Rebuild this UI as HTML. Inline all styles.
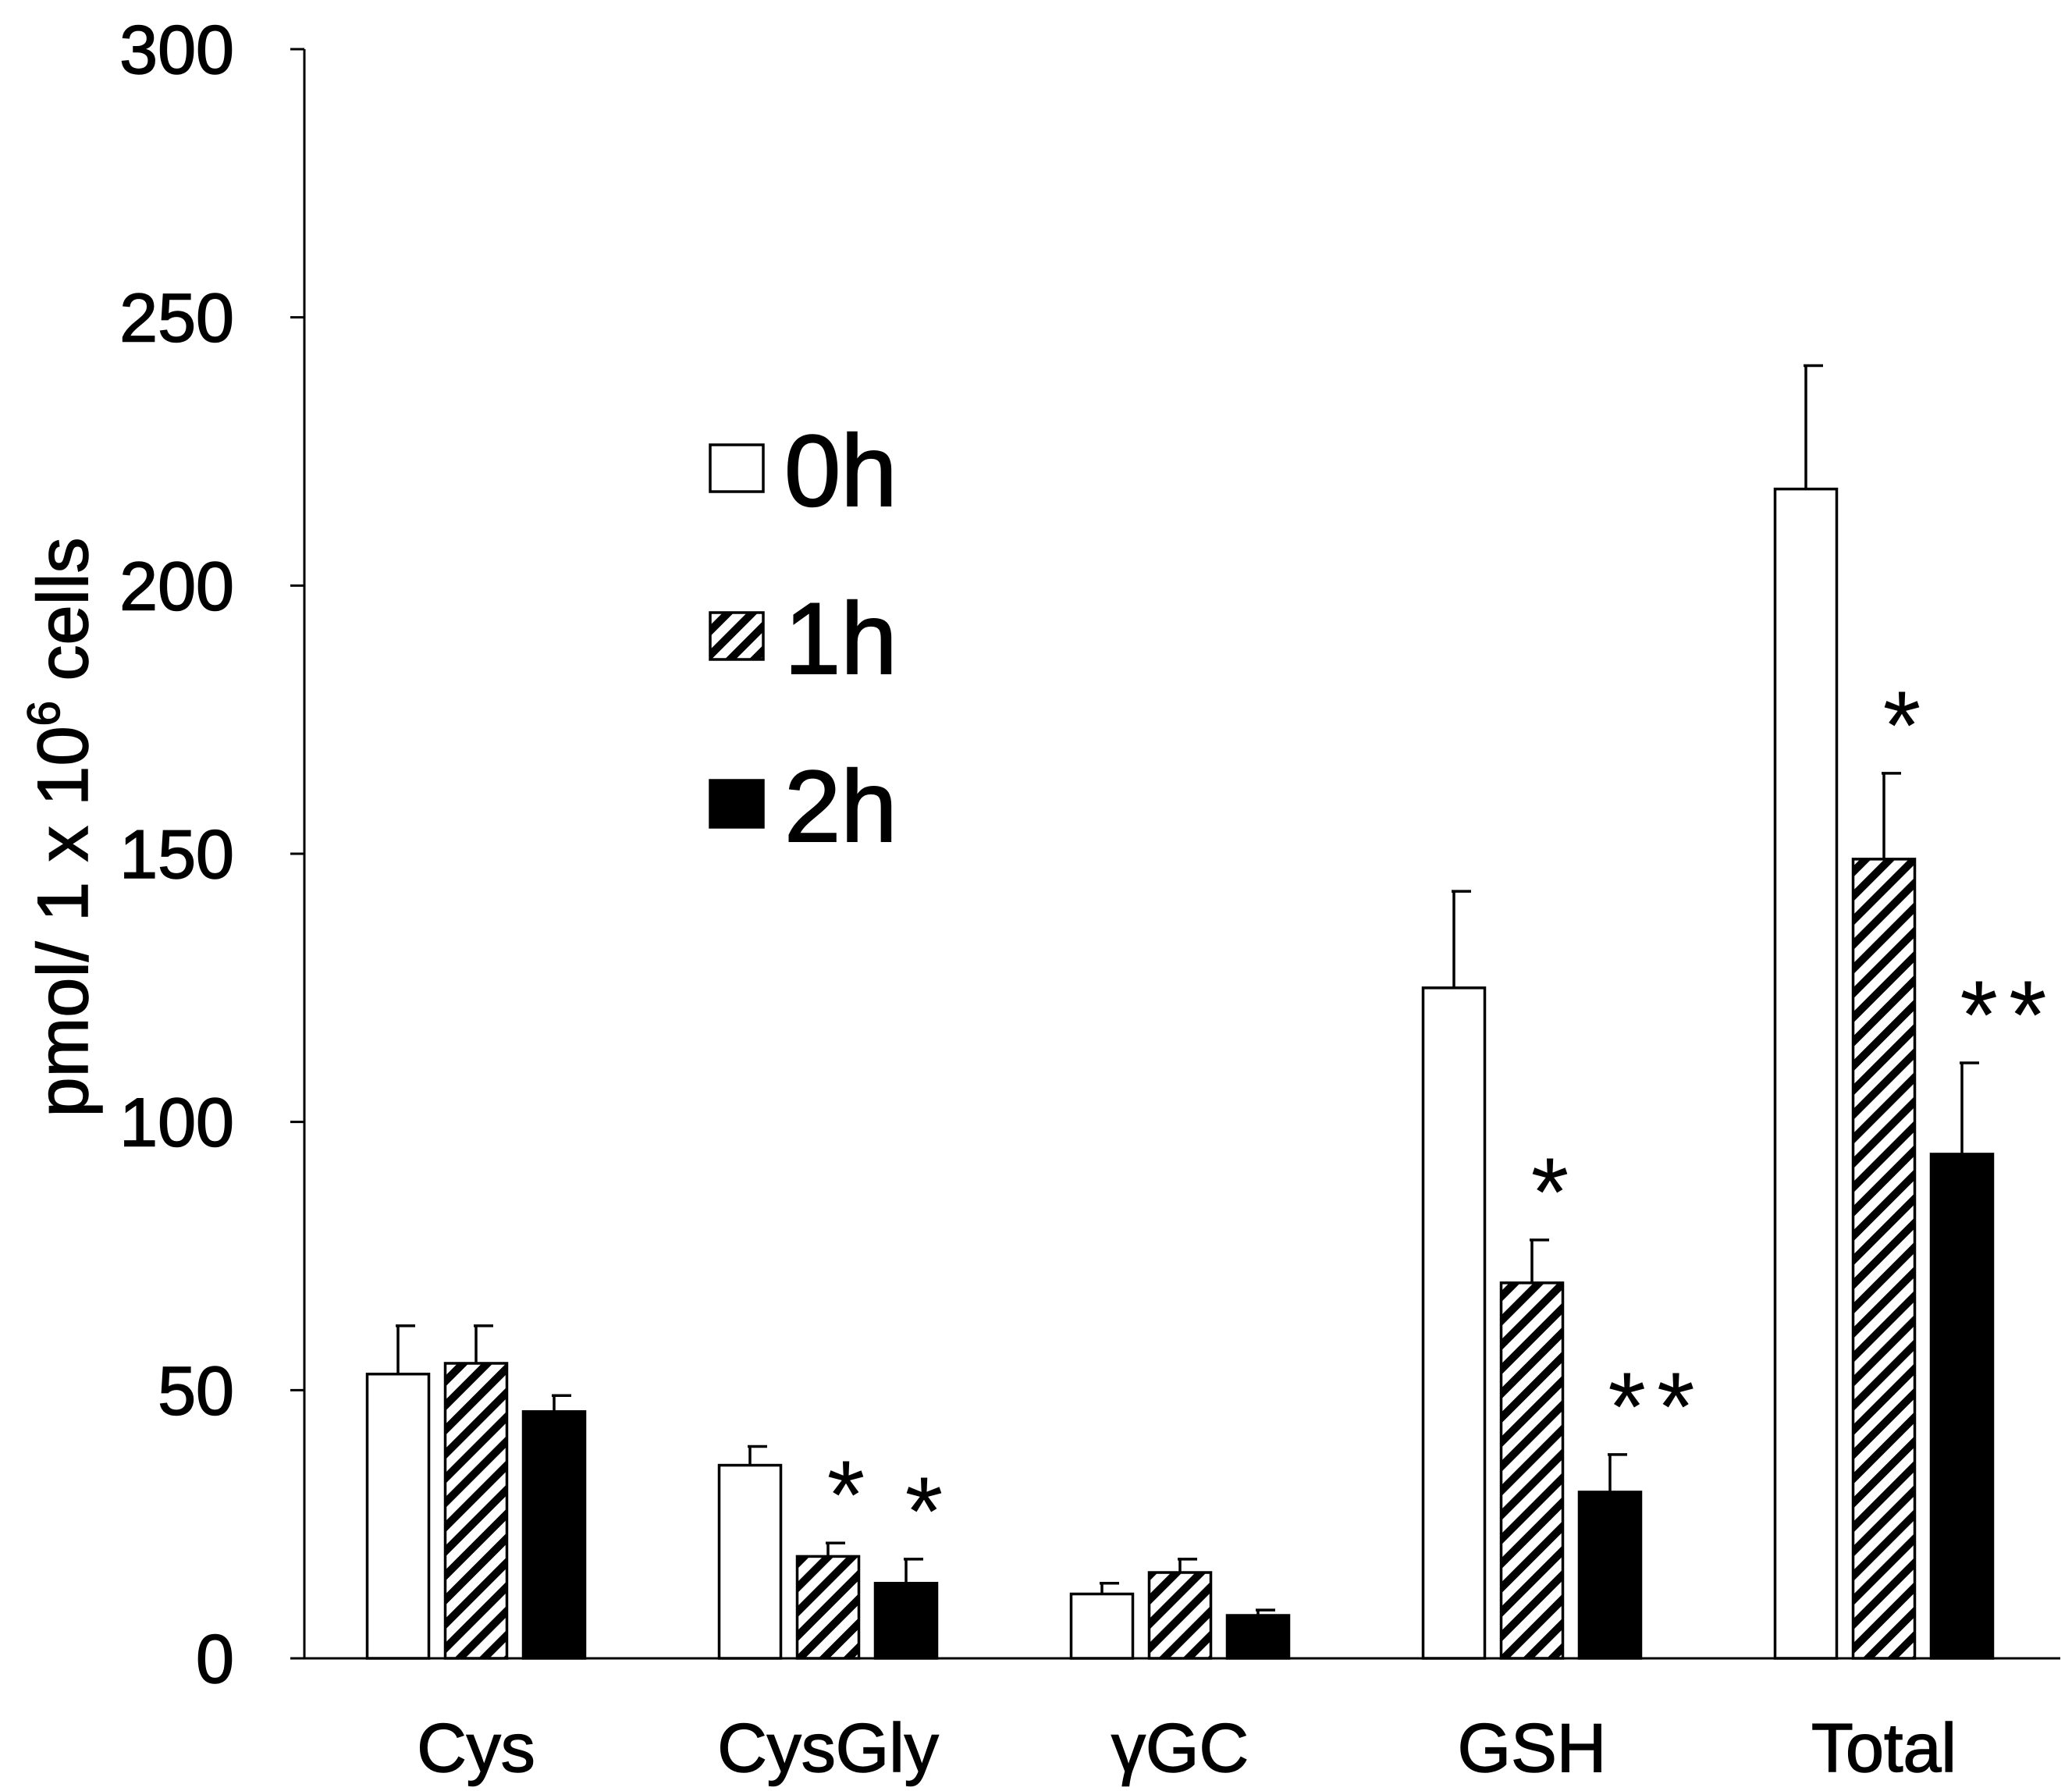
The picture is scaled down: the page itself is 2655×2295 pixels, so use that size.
<!DOCTYPE html>
<html><head><meta charset="utf-8"><style>
html,body{margin:0;padding:0;background:#fff}
svg{display:block;font-family:"Liberation Sans",Arial,sans-serif}
</style></head><body>
<svg id="chart" width="2655" height="2295" viewBox="0 0 2655 2295" xmlns="http://www.w3.org/2000/svg">
<defs>
<pattern id="hatch" patternUnits="userSpaceOnUse" width="22" height="22" patternTransform="rotate(45)">
<rect width="22" height="22" fill="#fff"/>
<rect x="0" y="0" width="10" height="22" fill="#000"/>
</pattern>
</defs>
<g id="plot"></g>
</svg>
<script>
const categories = ["Cys","CysGly","γGC","GSH","Total"];
const series0h = [53,36,12,125,218];
const series1h = [55,19,16,70,149];
const series2h = [46,14,8,31,94];
const err0h = [9,3.5,2,18,23];
const err1h = [7,2.5,2.5,8,16];
const err2h = [3,4.5,1,7,17];
const sig1h = ["","*","","*","*"];
const sig2h = ["","*","","**","**"];
const yTicks = [0,50,100,150,200,250,300];
const seriesNames = ["0h","1h","2h"];

const NS="http://www.w3.org/2000/svg";
const g=document.getElementById('plot');
const X0=390, XEND=2640, Y0=2125, YTOP=63, YMAX=300;
const y=v=>Y0-(Y0-YTOP)*v/YMAX;
const groupCenter=i=>610+i*451;
const barW=79, step=100;
function mk(tag,attrs,parent){const e=document.createElementNS(NS,tag);for(const k in attrs)e.setAttribute(k,attrs[k]);(parent||g).appendChild(e);return e;}

let ax=mk('line',{x1:X0,y1:YTOP,x2:X0,y2:Y0,stroke:'#000','stroke-width':3});


ax=mk('line',{x1:X0,y1:Y0,x2:XEND,y2:Y0,stroke:'#000','stroke-width':3});



yTicks.forEach(t=>{
  const tk=mk('line',{x1:X0-18,y1:y(t),x2:X0,y2:y(t),stroke:'#000','stroke-width':3});
  
  
  const tx=mk('text',{x:300,y:y(t)+31,'text-anchor':'end','font-size':88,fill:'#000',stroke:'#000','stroke-width':1.5});
  tx.textContent=t;
  
  
});

const yt=mk('text',{x:0,y:0,'text-anchor':'middle','font-size':92,fill:'#000',stroke:'#000','stroke-width':1.5,transform:'translate(112,1060) rotate(-90)'});


yt.innerHTML='pmol/ 1 x 10<tspan font-size="58" dy="-36">6</tspan><tspan dy="36"> cells</tspan>';

const allSeries=[series0h,series1h,series2h];
const allErr=[err0h,err1h,err2h];
const fills=['#fff','url(#hatch)','#000'];
categories.forEach((c,i)=>{
  const cx=groupCenter(i);
  allSeries.forEach((s,j)=>{
    const bx=cx+(j-1)*step-barW/2;
    const top=y(s[i]+allErr[j][i]);
    const el=mk('line',{x1:bx+barW/2,y1:y(s[i]),x2:bx+barW/2,y2:top,stroke:'#000','stroke-width':3.5});
    
    
    const cap=mk('line',{x1:bx+barW/2-3,y1:top,x2:bx+barW/2+22,y2:top,stroke:'#000','stroke-width':3.5});
    
    
    const r=mk('rect',{x:bx,y:y(s[i]),width:barW,height:Y0-y(s[i]),fill:fills[j],stroke:'#000','stroke-width':3.5});
    
    
  });
  [[sig1h,1,series1h,err1h],[sig2h,2,series2h,err2h]].forEach(([sig,j,s,e])=>{
    if(!sig[i])return;
    const t=mk('text',{x:cx+(j-1)*step+(sig[i].length>1?60:30),y:y(s[i]+e[i])-18,'text-anchor':'middle','font-size':125,fill:'#000','letter-spacing':'14'});
    t.textContent=sig[i];
    
    
  });
  const lb=mk('text',{x:cx,y:2270,'text-anchor':'middle','font-size':88,fill:'#000',stroke:'#000','stroke-width':1.5});
  lb.textContent=c;
  
  
});

const legY=[600,815,1030];
seriesNames.forEach((n,j)=>{
  const r=mk('rect',{x:910,y:legY[j]-30,width:68,height:60,fill:fills[j],stroke:'#000','stroke-width':3.5});
  
  
  const t=mk('text',{x:1005,y:legY[j]+48,'font-size':130,fill:'#000',stroke:'#000','stroke-width':2});
  t.textContent=n;
  
  
});
</script>
</body></html>
